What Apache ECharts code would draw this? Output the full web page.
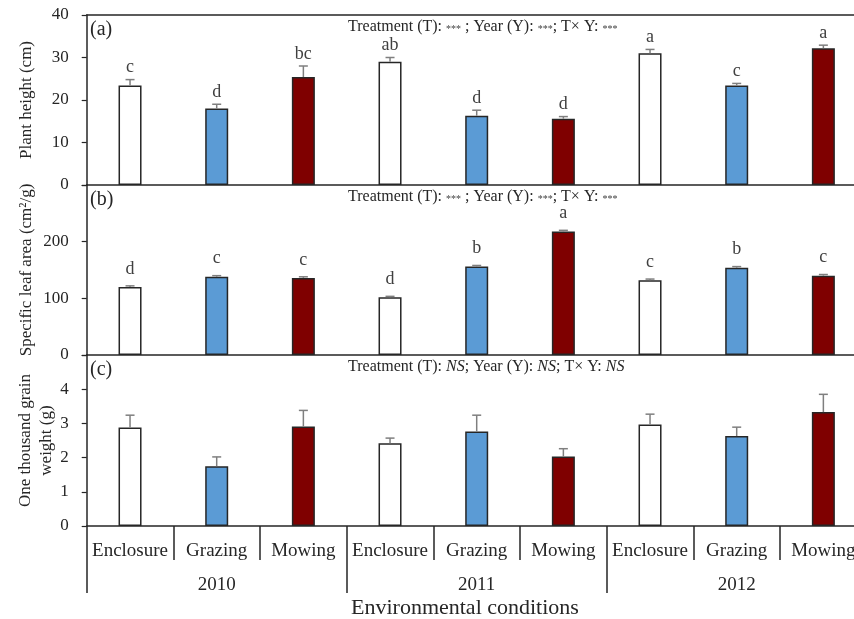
<!DOCTYPE html>
<html>
<head>
<meta charset="utf-8">
<script src="https://cdn.jsdelivr.net/npm/echarts@6/dist/echarts.min.js"></script>
<style>
html,body{margin:0;padding:0;background:#fff;}
#c{width:854px;height:619px;}
</style>
</head>
<body>
<div id="c"></div>
<script>
// ---- data ----
const treatments = ['Enclosure', 'Grazing', 'Mowing'];
const years = ['2010', '2011', '2012'];
const categories = ['Enclosure', 'Grazing', 'Mowing', 'Enclosure', 'Grazing', 'Mowing', 'Enclosure', 'Grazing', 'Mowing'];

const heightMean = [23.4, 18.0, 25.4, 29.0, 16.3, 15.6, 31.0, 23.4, 32.2];
const heightErr = [1.4, 1.0, 2.6, 1.0, 1.3, 0.5, 0.9, 0.5, 0.7];
const heightLetters = ['c', 'd', 'bc', 'ab', 'd', 'd', 'a', 'c', 'a'];

const slaMean = [120, 138, 136, 102, 156, 218, 132, 154, 140];
const slaErr = [2, 2, 2, 1.5, 2, 2, 2, 2, 2];
const slaLetters = ['d', 'c', 'c', 'd', 'b', 'a', 'c', 'b', 'c'];

const tgwMean = [2.88, 1.75, 2.91, 2.42, 2.76, 2.03, 2.97, 2.63, 3.33];
const tgwErr = [0.36, 0.27, 0.47, 0.15, 0.48, 0.23, 0.30, 0.26, 0.52];

const yTicksA = [0, 40, 10];
const yTicksB = [0, 300, 100];
const yTicksC = [0, 5, 1];

// ---- style ----
const FONT = '"Liberation Serif", "Times New Roman", serif';
const INK = '#262626';
const treatColors = ['#FFFFFF', '#5B9BD5', '#7F0000'];

const chart = echarts.init(document.getElementById('c'), null, {renderer: 'canvas'});

const GL = 86.7, GW = 780;
const grids = [
  {left: GL, width: GW, top: 15, height: 170, outerBoundsMode: 'none', containLabel: false},
  {left: GL, width: GW, top: 185, height: 170, outerBoundsMode: 'none', containLabel: false},
  {left: GL, width: GW, top: 355, height: 171, outerBoundsMode: 'none', containLabel: false}
];

function hiddenX(grid, pos) {
  return {
    type: 'category', gridIndex: grid, data: categories, position: pos,
    axisLine: {show: true, lineStyle: {color: INK, width: 1.5}},
    axisTick: {show: false}, axisLabel: {show: false}
  };
}

function yAxis(grid, t, name, hideMax, gap) {
  return {
    type: 'value', gridIndex: grid, min: t[0], max: t[1], interval: t[2],
    name: name, nameLocation: 'middle', nameGap: gap, nameMoveOverlap: false,
    nameTextStyle: {fontFamily: FONT, fontSize: 17, color: INK, lineHeight: 21, align: 'center'},
    axisLine: {show: true, lineStyle: {color: INK, width: 1.5}},
    axisTick: {show: true, length: 5, lineStyle: {color: INK, width: 1.2}},
    axisLabel: {
      fontFamily: FONT, fontSize: 17, color: INK, margin: 18,
      formatter: v => (hideMax && v === t[1]) ? '' : String(v)
    },
    splitLine: {show: false}
  };
}

function bars(means, xi, yi) {
  return {
    type: 'bar', xAxisIndex: xi, yAxisIndex: yi, barWidth: 23, z: 2,
    data: means.map((v, i) => ({value: v, itemStyle: {color: treatColors[i % 3]}})),
    itemStyle: {borderColor: INK, borderWidth: 1.5}
  };
}

function errs(means, errors, letters, xi, yi, gap) {
  return {
    type: 'custom', xAxisIndex: xi, yAxisIndex: yi, z: 3,
    data: means.map((m, i) => [i, m, errors[i]]),
    encode: {x: 0, y: 1},
    renderItem: function (params, api) {
      const i = api.value(0), m = api.value(1), e = api.value(2);
      const p0 = api.coord([i, m]);
      const p1 = api.coord([i, m + e]);
      const ch = [
        {type: 'line', shape: {x1: p0[0], y1: p0[1], x2: p1[0], y2: p1[1]}, style: {stroke: '#7f7f7f', lineWidth: 1.5}},
        {type: 'line', shape: {x1: p1[0] - 4.5, y1: p1[1], x2: p1[0] + 4.5, y2: p1[1]}, style: {stroke: '#7f7f7f', lineWidth: 1.5}}
      ];
      if (letters) {
        ch.push({type: 'text', x: p1[0], y: p1[1] - gap,
          style: {text: letters[params.dataIndex], fontFamily: FONT, fontSize: 18, fill: '#404040',
                  align: 'center', verticalAlign: 'bottom'}});
      }
      return {type: 'group', children: ch};
    }
  };
}

const starRich = {
  t: {fontFamily: FONT, fontSize: 16, fontWeight: 'normal', color: INK},
  s: {fontFamily: FONT, fontSize: 10, fontWeight: 'normal', color: '#404040', padding: [4, 0, 0, 0]},
  i: {fontFamily: FONT, fontSize: 16, fontWeight: 'normal', color: INK, fontStyle: 'italic'}
};
const statStars = '{t|Treatment (T): }{s|***}{t| ; Year (Y): }{s|***}{t|; T× Y: }{s|***}';
const statNS = '{t|Treatment (T): }{i|NS}{t|; Year (Y): }{i|NS}{t|; T× Y: }{i|NS}';

function panelTitle(txt, top) {
  return {text: txt, left: 90, top: top, padding: 0,
          textStyle: {fontFamily: FONT, fontSize: 20, fontWeight: 'normal', color: INK}};
}
function statTitle(txt, top) {
  return {text: txt, left: 348, top: top, padding: 0,
          textStyle: {rich: starRich, fontSize: 16, fontWeight: 'normal'}};
}

const option = {
  backgroundColor: '#fff',
  animation: false,
  title: [
    panelTitle('(a)', 20), panelTitle('(b)', 190), panelTitle('(c)', 360),
    statTitle(statStars, 19), statTitle(statStars, 189), statTitle(statNS, 359),
    {text: 'Environmental conditions', left: 351, top: 597, padding: 0,
     textStyle: {fontFamily: FONT, fontSize: 22, fontWeight: 'normal', color: INK}}
  ],
  grid: grids,
  xAxis: [
    hiddenX(0, 'bottom'),
    hiddenX(0, 'top'),
    hiddenX(1, 'bottom'),
    {
      type: 'category', gridIndex: 2, data: categories, position: 'bottom',
      axisLine: {show: true, lineStyle: {color: INK, width: 1.5}},
      axisTick: {show: true, interval: 0, length: 34, lineStyle: {color: INK, width: 1.5}},
      axisLabel: {interval: 0, fontFamily: FONT, fontSize: 19, color: INK, margin: 16}
    },
    {
      type: 'category', gridIndex: 2, data: years, position: 'bottom',
      axisLine: {show: false},
      axisTick: {show: true, interval: 0, length: 67, lineStyle: {color: INK, width: 1.5}},
      axisLabel: {interval: 0, fontFamily: FONT, fontSize: 19, color: INK, margin: 50}
    }
  ],
  yAxis: [
    yAxis(0, yTicksA, 'Plant height (cm)', false, 50),
    yAxis(1, yTicksB, 'Specific leaf area (cm²/g)', true, 50),
    yAxis(2, yTicksC, 'One thousand grain\nweight (g)', true, 30)
  ],
  series: [
    bars(heightMean, 0, 0), errs(heightMean, heightErr, heightLetters, 0, 0, 3),
    bars(slaMean, 2, 1), errs(slaMean, slaErr, slaLetters, 2, 1, 8),
    bars(tgwMean, 3, 2), errs(tgwMean, tgwErr, null, 3, 2, 0)
  ]
};
chart.setOption(option);
</script>
</body>
</html>
